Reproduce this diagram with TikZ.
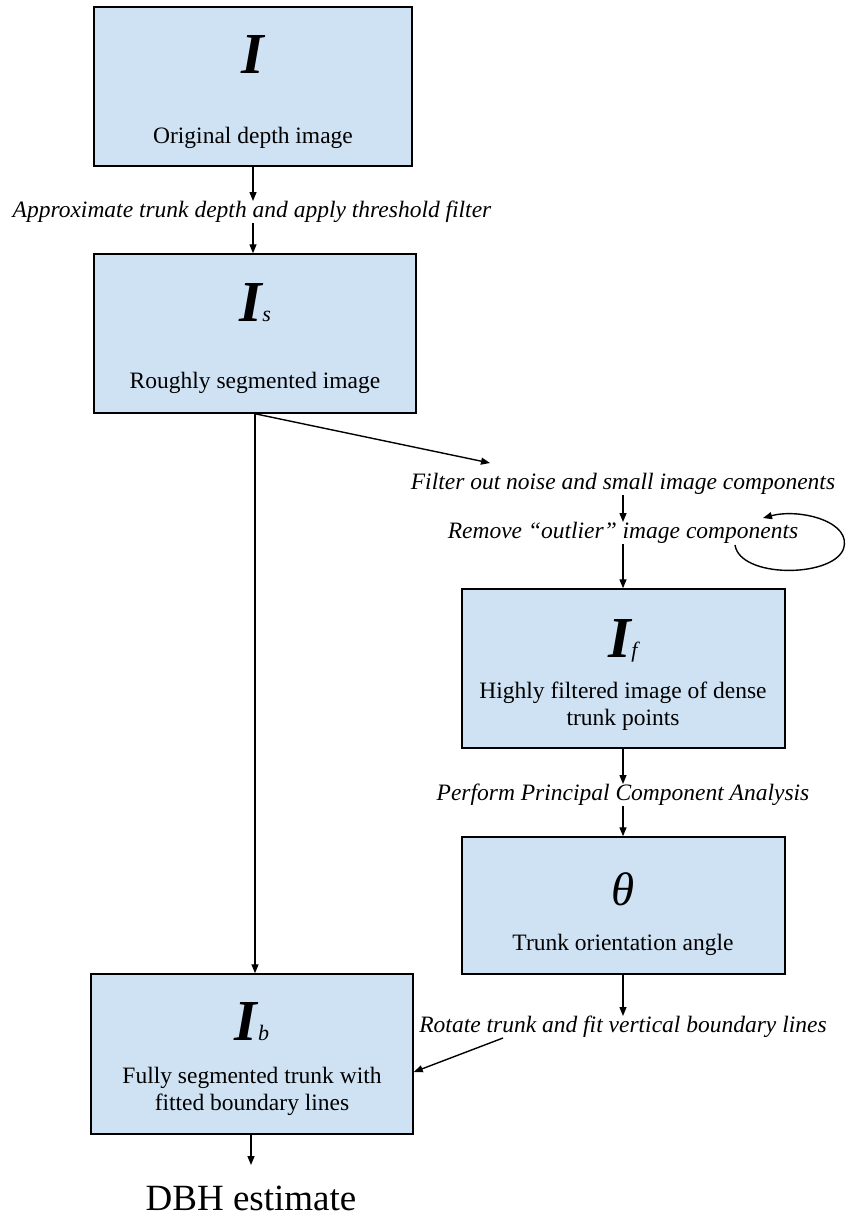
\documentclass[tikz,border=0pt]{standalone}
\usepackage{fontspec}
\setmainfont{Liberation Serif}
\usetikzlibrary{arrows.meta,calc}
\definecolor{boxblue}{HTML}{CFE2F3}
\newcommand\bigsym[1]{{\fontsize{58}{58}\selectfont\bfseries\itshape #1}}
\newcommand\smallsub[1]{{\fontsize{22}{22}\selectfont\itshape #1}}
\begin{document}
\begin{tikzpicture}[x=1pt,y=-1pt,
  box/.style={draw=black, line width=1.5pt, fill=boxblue, inner sep=0pt, anchor=center},
  sym/.style={inner sep=0pt, anchor=base},
  txt/.style={font=\fontsize{23.5}{26}\selectfont, inner sep=0pt, anchor=base},
  lab/.style={font=\fontsize{23.5}{26}\selectfont\itshape, inner sep=0pt, text height=14pt, text depth=4pt, outer sep=2pt, anchor=base},
  arr/.style={-{Triangle[length=9pt,width=7pt]}, line width=1.4pt},
  ln/.style={line width=1.4pt}]
\useasboundingbox (0,0) rectangle (846,1216);

% boxes
\node[box, minimum width=318pt, minimum height=159pt] (b1) at (253,86.5) {};
\node[box, minimum width=322pt, minimum height=159pt] (b2) at (255,333.5) {};
\node[box, minimum width=323pt, minimum height=159pt] (b3) at (623.5,668.5) {};
\node[box, minimum width=323pt, minimum height=137pt] (b4) at (623.5,905.5) {};
\node[box, minimum width=322pt, minimum height=160pt] (b5) at (252,1054) {};

% box contents
\node[sym] (s1) at (253,73) {\bigsym{I}};
\node[txt] (t1) at (253,143) {Original depth image};
\node[sym] (s2) at (255,321) {\bigsym{I}\kern0.5pt\smallsub{s}};
\node[txt] (t2) at (255,388) {Roughly segmented image};
\node[sym] (s3) at (623,657) {\bigsym{I}\kern0.5pt\smallsub{f}};
\node[txt] (t3a) at (623,698) {Highly filtered image of dense};
\node[txt] (t3b) at (623,725) {trunk points};
\node[sym] (s4) at (623,905) {{\fontsize{47}{47}\selectfont\itshape θ}};
\node[txt] (t4) at (623,950) {Trunk orientation angle};
\node[sym] (s5) at (252,1040) {\bigsym{I}\kern0.5pt\smallsub{b}};
\node[txt] (t5a) at (252,1083) {Fully segmented trunk with};
\node[txt] (t5b) at (252,1110) {fitted boundary lines};

% labels
\node[lab] (l1) at (252,217) {Approximate trunk depth and apply threshold filter};
\node[lab] (l2) at (623,489) {Filter out noise and small image components};
\node[lab] (l3) at (623,538) {Remove “outlier” image components};
\node[lab] (l4) at (623,800) {Perform Principal Component Analysis};
\node[lab] (l5) at (623,1032) {Rotate trunk and fit vertical boundary lines};
\node[inner sep=0pt, anchor=base, font=\fontsize{37}{40}\selectfont, text height=25pt, outer ysep=20pt] (dbh) at (251,1210) {DBH estimate};

% connectors
\draw[arr] (b1.south) -- (l1.north -| b1.south);
\draw[arr] (l1.south -| b1.south) -- (b2.north -| b1.south);
\coordinate (fTip) at ($(l2.base)+(-133,-26)$);
\draw[arr] (b2.south) -- (fTip);
\draw[arr] (b2.south) -- (b2.south |- b5.north);
\draw[arr] (l2.south) -- (l3.north);
\draw[arr] (l3.south) -- (b3.north -| l3.south);
\coordinate (loopS) at ($(l3.base)+(112,7)$);
\coordinate (loopE) at ($(l3.base)+(140,-20)$);
\draw[arr] (loopS) .. controls ($(loopS)+(5,33)$) and ($(loopS)+(95,33)$) .. ($(loopS)+(108,5)$)
  .. controls ($(loopS)+(119,-23)$) and ($(loopE)+(37,-10)$) .. (loopE);
\draw[arr] (b3.south -| l4.north) -- (l4.north);
\draw[arr] (l4.south) -- (b4.north -| l4.south);
\draw[arr] (b4.south -| l5.north) -- (l5.north);
\coordinate (rStart) at ($(l5.base)+(-120,6)$);
\draw[arr] (rStart) -- ($(b5.east)+(0,18)$);
\draw[arr] (b5.south -| dbh.north) -- (dbh.north);
\end{tikzpicture}
\end{document}
